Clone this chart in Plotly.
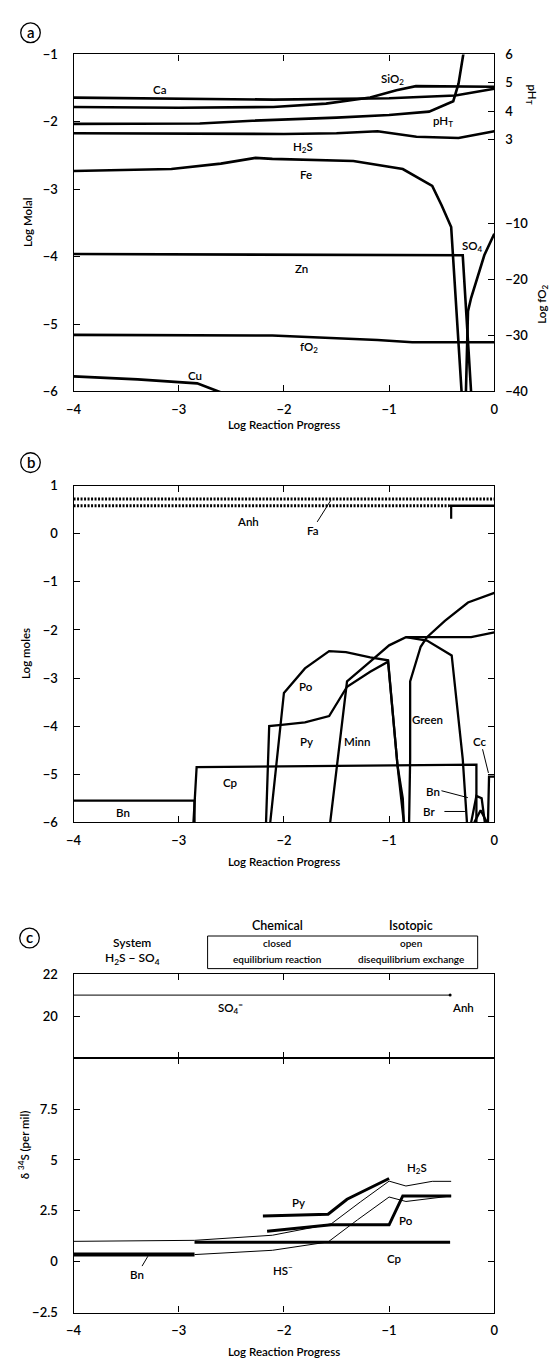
import plotly.graph_objects as go

W, H = 557, 1367
FONT = "Lato, DejaVu Sans, sans-serif"

# ---------------- Panel (a) data ----------------
a_ca_x = [-4, -3, -2.1, -1.0, -0.37, 0]
a_ca_y = [-1.64, -1.66, -1.67, -1.65, -1.61, -1.51]
a_sio2_x = [-4, -3, -2.1, -1.6, -1.18, -0.93, -0.745, 0]
a_sio2_y = [-1.78, -1.79, -1.78, -1.73, -1.64, -1.53, -1.47, -1.48]
a_ph_x = [-4, -2.8, -2.3, -2.0, -1.5, -1.0, -0.62, -0.39, -0.34, -0.295, -0.26]
a_ph_y = [3.55, 3.56, 3.66, 3.70, 3.77, 3.86, 3.98, 4.35, 4.97, 6.0, 6.6]
a_h2s_x = [-4, -3, -2, -1.5, -1.11, -0.74, -0.34, 0]
a_h2s_y = [-2.17, -2.18, -2.18, -2.17, -2.14, -2.22, -2.24, -2.14]
a_fe_x = [-4, -3.07, -2.6, -2.27, -2.11, -1.34, -0.87, -0.59, -0.50, -0.41, -0.31]
a_fe_y = [-2.73, -2.70, -2.62, -2.535, -2.55, -2.58, -2.70, -2.95, -3.24, -3.56, -6.03]
a_zn_x = [-4, -2, -0.30, -0.22]
a_zn_y = [-3.96, -3.97, -3.98, -6.02]
a_so4_x = [-0.27, -0.25, -0.22, -0.095, 0]
a_so4_y = [-6.02, -4.81, -4.61, -3.98, -3.66]
a_fo2_x = [-4, -3, -2.11, -1.11, -0.78, 0]
a_fo2_y = [-29.9, -30.0, -30.0, -30.8, -31.2, -31.2]
a_cu_x = [-4, -3.39, -2.825, -2.59]
a_cu_y = [-5.776, -5.82, -5.88, -6.02]

# ---------------- Panel (b) data ----------------
b_fa_x = [-4, 0]
b_fa_y = [0.72, 0.72]
b_anh_x = [-4, -0.43]
b_anh_y = [0.58, 0.58]
b_anh2_x = [-0.43, 0]
b_anh2_y = [0.58, 0.58]
b_bar_x = [-0.41, -0.41]
b_bar_y = [0.59, 0.31]
b_bn_x = [-4, -2.85, -2.85]
b_bn_y = [-5.55, -5.55, -6.0]
b_cp_x = [-2.86, -2.83, -0.17, -0.17]
b_cp_y = [-6.0, -4.85, -4.80, -6.0]
b_py_x = [-2.17, -2.14, -2.0, -1.80, -1.57, -1.40, -1.18, -1.01, -0.92, -0.87, -0.86]
b_py_y = [-6.0, -4.0, -3.97, -3.92, -3.79, -3.18, -2.87, -2.66, -4.82, -5.5, -6.0]
b_po_x = [-2.13, -2.0, -1.80, -1.57, -1.41, -1.18, -1.01, -0.92, -0.86]
b_po_y = [-6.0, -3.31, -2.80, -2.44, -2.46, -2.57, -2.63, -4.82, -6.0]
b_minn_x = [-1.56, -1.40, -1.18, -1.0, -0.84, -0.22, 0]
b_minn_y = [-6.0, -3.07, -2.66, -2.32, -2.15, -2.15, -2.05]
b_green_x = [-0.84, -0.64, -0.405, -0.30, -0.26]
b_green_y = [-2.15, -2.22, -2.53, -4.68, -6.0]
b_x_x = [-0.81, -0.80, -0.80, -0.70, -0.64, -0.47, -0.25, 0]
b_x_y = [-6.0, -4.68, -3.07, -2.35, -2.15, -1.81, -1.43, -1.23]
b_bn2_x = [-0.22, -0.17, -0.12, -0.09]
b_bn2_y = [-6.0, -5.45, -5.5, -6.0]
b_br_x = [-0.19, -0.13, -0.07]
b_br_y = [-6.0, -5.75, -6.0]
b_cc_x = [-0.06, -0.05, 0.0]
b_cc_y = [-6.0, -5.05, -5.05]

# ---------------- Panel (c) data ----------------
c_so4_x = [-4, -0.42]
c_so4_y = [21.0, 21.0]
c_bn_x = [-4, -2.85]
c_bn_y = [0.35, 0.35]
c_cp_x = [-2.85, -0.42]
c_cp_y = [0.95, 0.95]
c_py_x = [-2.2, -1.58, -1.40, -1.0]
c_py_y = [2.25, 2.33, 3.07, 4.09]
c_po_x = [-2.16, -1.55, -1.0, -0.87, -0.41]
c_po_y = [1.5, 1.81, 1.81, 3.23, 3.23]
c_h2s_x = [-4, -2.85, -2.11, -1.55, -1.27, -1.0, -0.84, -0.59, -0.41]
c_h2s_y = [1.0, 1.05, 1.3, 1.86, 2.95, 3.96, 3.72, 3.95, 3.95]
c_hs_x = [-2.85, -2.11, -1.58, -1.3, -1.0, -0.84, -0.41]
c_hs_y = [0.35, 0.56, 0.97, 2.06, 3.18, 2.96, 3.23]

x_ticks = [-4, -3, -2, -1, 0]


def px(x):
    return x / W


def py(y):
    return 1 - y / H


fig = go.Figure()


def line(x, y, xa, ya, w=2.5, dash="solid"):
    fig.add_trace(go.Scatter(x=x, y=y, xaxis=xa, yaxis=ya, mode="lines",
                             line=dict(color="black", width=w, dash=dash),
                             showlegend=False, hoverinfo="skip"))


# panel a
for xs, ys in [(a_ca_x, a_ca_y), (a_sio2_x, a_sio2_y), (a_h2s_x, a_h2s_y),
               (a_fe_x, a_fe_y), (a_zn_x, a_zn_y), (a_so4_x, a_so4_y),
               (a_cu_x, a_cu_y)]:
    line(xs, ys, "x", "y", 2.6)
line(a_ph_x, a_ph_y, "x", "y2", 2.6)
line(a_fo2_x, a_fo2_y, "x", "y3", 2.6)

# panel b
line(b_fa_x, b_fa_y, "x2", "y4", 3, "2px,1.5px")
line(b_anh_x, b_anh_y, "x2", "y4", 3, "2px,1.5px")
line(b_anh2_x, b_anh2_y, "x2", "y4", 2.5)
line(b_bar_x, b_bar_y, "x2", "y4", 2.2)
for xs, ys in [(b_bn_x, b_bn_y), (b_cp_x, b_cp_y), (b_py_x, b_py_y),
               (b_po_x, b_po_y), (b_minn_x, b_minn_y), (b_green_x, b_green_y),
               (b_x_x, b_x_y), (b_bn2_x, b_bn2_y), (b_br_x, b_br_y),
               (b_cc_x, b_cc_y)]:
    line(xs, ys, "x2", "y4", 2.3)

# panel c
line(c_so4_x, c_so4_y, "x3", "y5", 1.0)
fig.add_trace(go.Scatter(x=[c_so4_x[-1]], y=[c_so4_y[-1]], xaxis="x3", yaxis="y5",
                         mode="markers", marker=dict(color="black", size=3),
                         showlegend=False, hoverinfo="skip"))
line(c_bn_x, c_bn_y, "x4", "y6", 4.0)
line(c_cp_x, c_cp_y, "x4", "y6", 3.0)
line(c_py_x, c_py_y, "x4", "y6", 3.0)
line(c_po_x, c_po_y, "x4", "y6", 3.0)
line(c_h2s_x, c_h2s_y, "x4", "y6", 1.0)
line(c_hs_x, c_hs_y, "x4", "y6", 1.0)

tickfont = dict(family=FONT, size=13, color="black", weight=600)


def xaxis(dom_anchor, labels=True):
    return dict(range=[-4, 0], tickvals=x_ticks, ticks="inside", ticklen=6,
                tickwidth=1, tickcolor="black", showline=True, linecolor="black",
                linewidth=1.3, mirror="ticks", showgrid=False, zeroline=False,
                showticklabels=labels, tickfont=tickfont, anchor=dom_anchor,
                domain=[67 / W, 497 / W], ticklabelstandoff=6)


def ydom(top, bot):
    return [py(bot), py(top)]


yax_common = dict(ticks="inside", ticklen=6, tickwidth=1, tickcolor="black",
                  showline=True, linecolor="black", linewidth=1.3,
                  showgrid=False, zeroline=False, tickfont=tickfont,
                  ticklabelstandoff=12)

layout = dict(
    width=W, height=H, margin=dict(l=0, r=0, t=0, b=0),
    paper_bgcolor="white", plot_bgcolor="white",
    font=dict(family=FONT, size=12, color="black"),
    xaxis=xaxis("y"),
    yaxis=dict(range=[-6, -1], tickvals=[-1, -2, -3, -4, -5, -6],
               domain=ydom(47, 388), anchor="x", mirror=True, **yax_common),
    yaxis2=dict(range=[-5.9, 6], tickvals=[3, 4, 5, 6], overlaying="y",
                side="right", anchor="x", ticks="inside", ticklen=6,
                tickcolor="black", showgrid=False, zeroline=False,
                showline=False, tickfont=tickfont, ticklabelstandoff=10),
    yaxis3=dict(range=[-40, 20.2], tickvals=[-10, -20, -30, -40], overlaying="y",
                side="right", anchor="x", ticks="inside", ticklen=6,
                tickcolor="black", showgrid=False, zeroline=False,
                showline=False, tickfont=tickfont, ticklabelstandoff=10),
    xaxis2=xaxis("y4"),
    yaxis4=dict(range=[-6, 1], tickvals=[1, 0, -1, -2, -3, -4, -5, -6],
                domain=ydom(483.3, 824), anchor="x2", mirror="ticks", **yax_common),
    xaxis3=xaxis("y5", labels=False),
    yaxis5=dict(range=[18, 22], tickvals=[20, 22], domain=ydom(977.5, 1062.7),
                anchor="x3", mirror="ticks", **yax_common),
    xaxis4=xaxis("y6"),
    yaxis6=dict(range=[-2.5, 10], tickvals=[-2.5, 0, 2.5, 5, 7.5],
                domain=ydom(1062.7, 1320), anchor="x4", mirror="ticks", **yax_common),
)

annotations = []


def ann(text, x, y, size=11.5, angle=0, xanchor="center"):
    annotations.append(dict(text=text, x=px(x), y=py(y), xref="paper", yref="paper",
                            showarrow=False, xanchor=xanchor, yanchor="middle",
                            textangle=angle,
                            font=dict(family=FONT, size=size, color="black", weight=600)))


shapes = []


def seg(x0, y0, x1, y1, w=1):
    shapes.append(dict(type="line", xref="paper", yref="paper",
                       x0=px(x0), y0=py(y0), x1=px(x1), y1=py(y1),
                       line=dict(color="black", width=w)))


def circ(cx, cy, r, letter):
    shapes.append(dict(type="circle", xref="paper", yref="paper",
                       x0=px(cx - r), x1=px(cx + r), y0=py(cy + r), y1=py(cy - r),
                       line=dict(color="black", width=1.3)))
    ann(letter, cx, cy - 1, 15)


# panel letters
circ(23, 25, 10, "a")
circ(23, 460, 10, "b")
circ(22, 941, 10, "c")

# axis titles
ann("Log Reaction Progress", 282, 421, 11.5)
ann("Log Reaction Progress", 282, 864, 11.5)
ann("Log Reaction Progress", 282, 1359, 11.5)
ann("Log Molal", 20, 217, 11.5, -90)
ann("Log moles", 18, 653, 11.5, -90)
ann("δ <sup>34</sup>S (per mil)", 16, 1150, 11.5, -90)
ann("pH<sub>T</sub>", 535, 88, 11.5, 90)
ann("Log fO<sub>2</sub>", 546, 300, 11.5, -90)

# panel a labels
ann("Ca", 155, 82)
ann("SiO<sub>2</sub>", 393, 72)
ann("pH<sub>T</sub>", 445, 115)
ann("H<sub>2</sub>S", 301, 141)
ann("Fe", 305, 168)
ann("Zn", 300, 264)
ann("SO<sub>4</sub>", 475, 241)
ann("fO<sub>2</sub>", 308, 344)
ann("Cu", 191, 372)

# panel b labels
ann("Anh", 245, 520)
ann("Fa", 312, 529)
seg(316, 520, 330, 498)
ann("Po", 305, 687)
ann("Py", 305, 742)
ann("Minn", 357, 742)
ann("Green", 429, 720)
ann("Cc", 482, 742)
seg(485, 750, 491, 774)
ann("Bn", 434, 793)
seg(443, 792, 470, 799)
ann("Br", 430, 813)
seg(446, 813, 467, 813)
ann("Bn", 118, 814)
ann("Cp", 227, 784)

# panel c header
ann("Chemical", 275, 928, 12.5)
ann("Isotopic", 412, 928, 12.5)
shapes.append(dict(type="rect", xref="paper", yref="paper",
                   x0=px(204), x1=px(480), y0=py(972), y1=py(939),
                   line=dict(color="black", width=1)))
ann("closed", 275, 946, 10)
ann("equilibrium reaction", 275, 962, 10)
ann("open", 412, 946, 10)
ann("disequilibrium exchange", 412, 962, 10)
ann("System", 127, 946, 12)
ann("H<sub>2</sub>S − SO<sub>4</sub>", 127, 962, 12)

# panel c labels
ann("SO<sub>4</sub><sup>=</sup>", 227, 1011)
ann("Anh", 465, 1011)
ann("H<sub>2</sub>S", 418, 1174)
ann("Py", 297, 1209)
ann("Po", 407, 1227)
ann("Cp", 395, 1265)
ann("HS<sup>−</sup>", 281, 1276)
ann("Bn", 132, 1281)
seg(137, 1273, 143, 1263)

layout["annotations"] = annotations
layout["shapes"] = shapes
fig.update_layout(**layout)
fig.write_html("out.html")
